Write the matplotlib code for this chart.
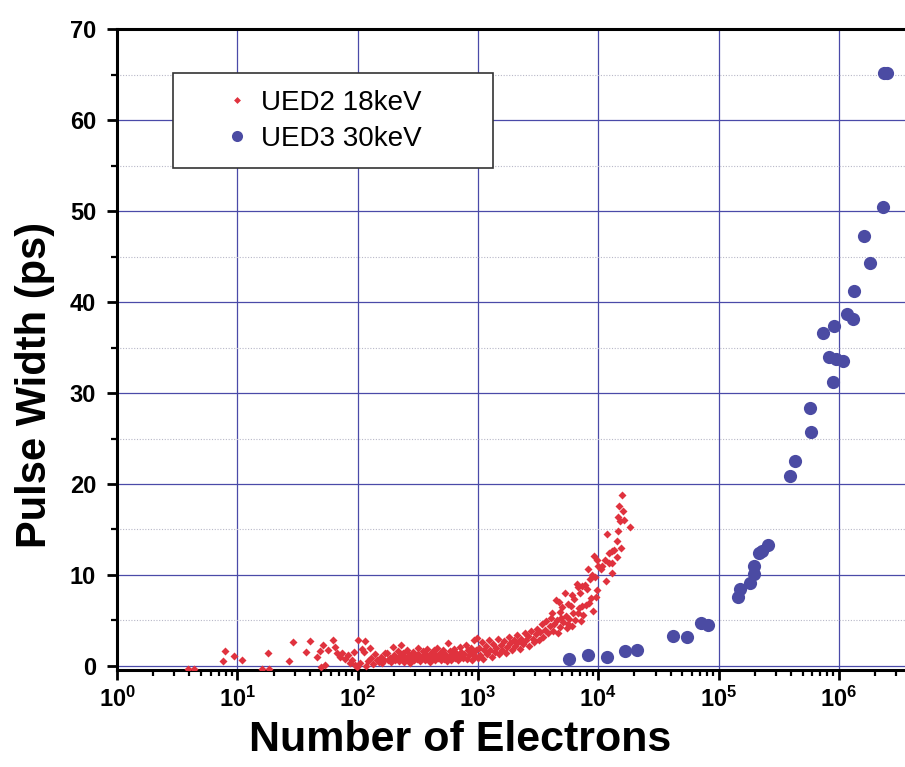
import math
import matplotlib
matplotlib.use("Agg")
import matplotlib.pyplot as plt
from matplotlib.lines import Line2D
from matplotlib.ticker import FixedLocator, FuncFormatter, NullFormatter

plt.rcParams['font.family'] = ['Liberation Sans', 'DejaVu Sans']
plt.rcParams['mathtext.fontset'] = 'custom'
plt.rcParams['mathtext.rm'] = 'Liberation Sans:bold'
plt.rcParams['mathtext.bf'] = 'Liberation Sans:bold'

# UED2 18keV: number of electrons, pulse width (ps)
red_n = [3.9, 4.4, 7.6, 7.9, 9.4, 11, 16, 18.5, 18, 27, 29, 37, 40, 46, 49, 52, 50, 54,
         57, 63, 65, 68, 71, 74, 79, 83, 86, 90, 93, 96, 98,
         100, 105, 108, 112, 116, 118, 122, 126, 130, 135, 140, 145, 150, 155, 160, 165,
         170, 176, 180, 185, 190, 198, 200, 205, 210, 215, 220, 225, 230, 235, 240, 245,
         250, 255, 260, 268, 275, 280, 290, 295, 300, 310, 316, 320, 330, 340, 350, 360,
         370, 380, 390, 400, 410, 420, 430, 440, 450, 460, 470, 480, 490, 500, 510, 520,
         535, 550, 562, 575, 590, 600, 615, 630, 645, 660, 680, 700, 715, 730, 750, 770,
         790, 810, 830, 850, 870, 890, 910, 930, 950, 970, 990, 1000,
         1020, 1050, 1080, 1100, 1130, 1160, 1200, 1230, 1270, 1300, 1340, 1380, 1420,
         1460, 1500, 1550, 1600, 1650, 1700, 1750, 1800, 1860, 1920, 1980, 2040, 2100,
         2170, 2240, 2300, 2380, 2450, 2520, 2600, 2680, 2760, 2850, 2940, 3030, 3120,
         3200, 3300, 3400, 3500, 3600, 3700, 3820, 3940, 4050,
         4100, 4200, 4300, 4470, 4550, 4600, 4680, 4790, 4850, 4900, 5000, 5100, 5250,
         5350, 5450, 5560, 5650, 5750, 5900, 6000, 6110, 6170, 6300, 6450, 6600, 6760,
         6760, 6900, 7050, 7160, 7300, 7400, 7500, 7700, 7900, 8000, 8200, 8400, 8500,
         8700, 8800, 9000, 9200, 9400, 9500, 9700, 9800, 10000,
         10600, 10800, 11300, 11700, 12200, 11900, 12400, 12900, 13100, 13400, 13100,
         14200, 14400, 14700, 14700, 15000, 15300, 15600, 15900, 16200, 16500, 18500]
red_w = [-0.3, -0.3, 0.55, 1.65, 1.1, 0.65, -0.3, -0.3, 1.4, 0.55, 2.6, 1.5, 2.7, 1.0, 1.65, 2.3, -0.1, 0.1,
         1.75, 2.85, 2.1, 1.4, 1.0, 1.4, 0.8, 1.2, 0.3, 0.65, 1.5, 0.1, -0.1,
         2.8, 0.3, 1.9, 1.5, 2.7, 0.0, 0.5, 2.0, 0.9, 0.2, 1.3, 0.6, 0.4, 1.0, 0.3, 0.7,
         1.4, 1.4, 0.6, 0.9, 0.4, 2.1, 1.2, 0.6, 0.9, 1.6, 0.5, 1.1, 2.3, 0.8, 1.4, 0.4,
         1.0, 1.7, 0.7, 1.2, 0.3, 0.9, 1.5, 0.6, 1.1, 0.8, 2.0, 1.3, 0.5, 1.0, 1.6, 0.7,
         1.2, 1.9, 0.9, 0.4, 1.4, 1.0, 1.7, 0.7, 1.2, 2.0, 0.9, 1.4, 0.6, 1.1, 1.8, 0.8,
         1.3, 0.5, 2.5, 1.0, 1.6, 0.7, 1.2, 1.9, 0.9, 1.4, 0.6, 1.1, 2.1, 1.5, 0.9, 1.3,
         2.3, 0.8, 1.7, 1.2, 2.0, 0.7, 1.5, 2.8, 1.1, 1.8, 3.1, 0.9,
         2.0, 1.2, 2.6, 0.8, 1.7, 2.2, 1.3, 2.9, 1.8, 1.0, 2.4, 1.5, 2.0,
         3.0, 1.3, 2.3, 1.8, 2.7, 1.4, 2.1, 3.2, 2.5, 1.7, 2.9, 2.2, 3.4,
         2.6, 1.9, 3.0, 2.4, 3.6, 2.8, 3.3, 2.2, 3.8, 3.0, 2.6, 3.5, 4.1,
         2.9, 3.7, 4.6, 3.2, 4.0, 4.9, 3.6, 4.4, 5.3,
         5.8, 3.8, 4.6, 7.3, 5.0, 3.6, 7.0, 5.9, 4.3, 5.3, 6.5, 4.8, 8.0,
         5.5, 4.2, 4.6, 6.8, 5.2, 6.6, 4.4, 7.8, 5.8, 7.4, 5.0, 9.0, 8.7,
         5.8, 6.4, 8.0, 4.9, 6.6, 8.8, 5.6, 8.9, 6.7, 8.5, 10.7, 6.9, 9.6,
         7.5, 10.0, 6.0, 12.1, 9.8, 7.6, 11.6, 8.3, 11.0,
         10.7, 11.0, 11.6, 9.3, 11.3, 14.5, 12.4, 12.6, 11.3, 12.7, 10.2,
         13.7, 12.0, 14.8, 16.4, 17.6, 15.9, 13.0, 18.8, 17.0, 16.0, 15.3]

# UED3 30keV
blue_n = [5760, 8280, 11900, 16800, 21200, 42200, 55200, 72200, 81000, 144000, 150000,
          181000, 196000, 199000, 219000, 228000, 256000, 390000, 429000, 571000, 582000,
          733000, 822000, 905000, 940000, 888000, 1.08e6, 1.18e6, 1.30e6, 1.33e6, 1.80e6,
          1.61e6, 2.31e6, 2.36e6, 2.50e6]
blue_w = [0.77, 1.2, 0.99, 1.65, 1.76, 3.3, 3.2, 4.7, 4.5, 7.6, 8.5,
          9.1, 10.1, 11.0, 12.4, 12.6, 13.3, 20.9, 22.5, 28.4, 25.7,
          36.6, 34.0, 37.4, 33.7, 31.2, 33.5, 38.7, 38.1, 41.2, 44.3,
          47.3, 50.4, 65.2, 65.2]

x_major = [1, 10, 100, 1e3, 1e4, 1e5, 1e6]
x_minor = [m * d for d in x_major for m in range(2, 10)]

red_c = '#e0323e'
blue_c = '#4b4ba3'
grid_c = '#4a4aa8'

fig = plt.figure(figsize=(9.05, 7.67), dpi=100)
ax = fig.add_axes([0.1293, 0.127, 0.874, 0.835])

ax.plot(red_n, red_w, 'D', ms=4.5, color=red_c, mec='none', zorder=3)
ax.plot(blue_n, blue_w, 'o', ms=9.5, color=blue_c, mec='none', zorder=3)

ax.set_xscale('log')
ax.set_xlim(1, 10 ** 6.575)
ax.set_ylim(-0.4, 70)

ax.xaxis.set_major_locator(FixedLocator(x_major))
ax.xaxis.set_minor_locator(FixedLocator(x_minor))
ax.xaxis.set_major_formatter(FuncFormatter(lambda v, p: r'$\mathbf{10^{%d}}$' % round(math.log10(v))))
ax.xaxis.set_minor_formatter(NullFormatter())
ax.yaxis.set_major_locator(FixedLocator(range(0, 71, 10)))
ax.yaxis.set_minor_locator(FixedLocator(range(5, 70, 10)))

ax.grid(which='major', color=grid_c, lw=0.9)
ax.grid(which='minor', axis='y', color='#b8b8c8', lw=0.8, ls=(0, (1, 1.5)))
ax.set_axisbelow(True)

for s in ax.spines.values():
    s.set_linewidth(2.2)
ax.tick_params(which='major', direction='out', length=7, width=2, labelsize=17, pad=8)
ax.tick_params(axis='x', which='major', pad=5)
ax.tick_params(which='minor', direction='out', length=4, width=1.6)
ax.tick_params(axis='y', which='major', right=True)
ax.tick_params(axis='y', which='minor', right=False)
for t in ax.get_yticklabels():
    t.set_fontweight('bold')

# axis titles placed as in the reference
fig.text(460 / 905, 1 - 740 / 767, 'Number of Electrons', fontsize=31, fontweight='bold',
         ha='center', va='center')
fig.text(35 / 905, 1 - 385 / 767, 'Pulse Width (ps)', fontsize=30, fontweight='bold',
         ha='center', va='center', rotation=90)

handles = [Line2D([], [], ls='none', marker='D', ms=3.5, color=red_c, mec='none'),
           Line2D([], [], ls='none', marker='o', ms=8, color=blue_c, mec='none')]
leg = ax.legend(handles, ['UED2 18keV', 'UED3 30keV'], loc='upper left',
                bbox_to_anchor=(0.0709, 0.776, 0.404, 0.155), mode='expand',
                fontsize=20, frameon=True, fancybox=False,
                edgecolor='#333333', framealpha=1, borderpad=0.6, handletextpad=-0.85,
                labelspacing=0.35, borderaxespad=0, handlelength=3.4)
leg.get_frame().set_linewidth(1.2)

fig.savefig('out.png', dpi=100)
